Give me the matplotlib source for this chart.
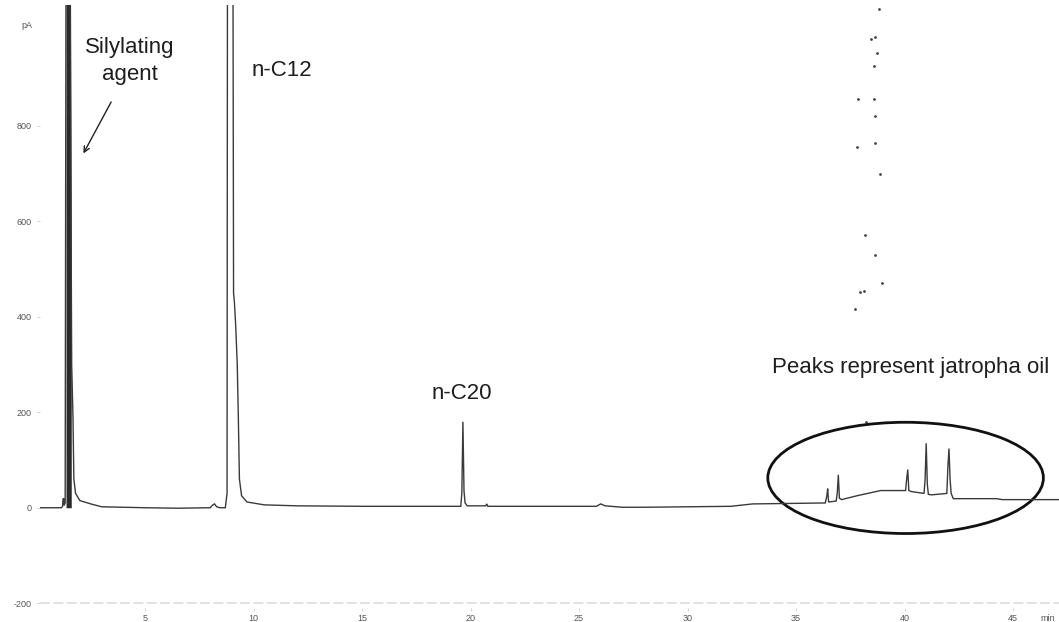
import matplotlib
matplotlib.use("Agg")
import matplotlib.pyplot as plt
from matplotlib.patches import Ellipse

# ---- data (time in min, signal in pA) ----
time_min = [0.16, 1.15, 1.20, 1.22, 1.25, 1.27, 1.32, 1.36, 1.55, 1.60, 1.62, 1.68,
            1.72, 1.80, 2.0, 2.5, 3.0, 5.0, 6.5, 8.0, 8.1, 8.2, 8.3, 8.45,
            8.70, 8.78, 8.80, 9.05, 9.08, 9.12, 9.18, 9.25, 9.30, 9.35, 9.45,
            9.7, 10.5, 12.0, 15.0, 19.55, 19.60, 19.65, 19.70, 19.75, 19.85,
            20.70, 20.75, 20.80, 25.8, 26.0, 26.2, 27.0, 28.0, 30.0, 32.0,
            33.0, 36.35, 36.42, 36.46, 36.50, 36.85, 36.90, 36.95, 37.00, 37.10,
            37.8, 38.9, 40.05, 40.10, 40.15, 40.20, 40.30, 40.90, 40.95, 41.00,
            41.05, 41.10, 41.25, 41.95, 42.00, 42.05, 42.10, 42.15, 42.25, 42.40,
            44.25, 44.5, 47.12]
signal_pA = [0, 0, 3, 18, 20, 5, 10, 1200, 1200, 510, 300, 190,
             60, 30, 15, 8, 2, 0, -1, 0, 5, 8, 2, 0,
             0, 30, 1200, 1200, 450, 430, 380, 300, 190, 60, 25,
             12, 6, 4, 3, 3, 30, 180, 35, 10, 4,
             4, 8, 3, 3, 8, 4, 1, 1, 2, 3,
             8, 10, 25, 40, 12, 14, 30, 69, 20, 17,
             25, 36, 36, 60, 80, 36, 34, 30, 60, 135,
             50, 28, 27, 30, 86, 124, 60, 30, 19, 19,
             19, 17, 17]

# stray scan dots
dot_t = [38.83, 38.46, 38.64, 38.73, 38.59, 37.86, 38.59, 38.64, 37.81, 38.64,
         38.87, 38.18, 38.64, 38.96, 37.95, 38.13, 37.72, 38.22]
dot_pA = [1045, 982, 986, 953, 926, 857, 857, 821, 756, 764,
          699, 572, 530, 471, 452, 454, 417, 180]

x_ticks = [5, 10, 15, 20, 25, 30, 35, 40, 45]
y_ticks = [-200, 0, 200, 400, 600, 800]

plt.rcParams['font.family'] = ['Liberation Sans', 'DejaVu Sans']

fig = plt.figure(figsize=(10.59, 6.22), dpi=100)
ax = fig.add_axes([40 / 1059, 14 / 622, 1 - 40 / 1059, (608 - 5) / 622])
ax.set_xlim(0.16, 47.12)
ax.set_ylim(-210, 1053)

ax.plot(time_min, signal_pA, color='#3a3a3a', lw=1.0, solid_joinstyle='miter')
# dark band of the overloaded solvent/silylating peak
ax.fill_between(time_min, 0, signal_pA,
                where=[1.36 <= t <= 1.60 for t in time_min],
                color='#2a2a2a', lw=0)
ax.scatter(dot_t, dot_pA, s=4, color='#444444', linewidths=0)

# faint -200 line
ax.axhline(-200, color='#dddddd', lw=1.2, ls=(0, (6, 2)), zorder=0)

for s in ax.spines.values():
    s.set_visible(False)
ax.set_xticks(x_ticks)
ax.set_xticklabels([str(v) for v in x_ticks])
ax.set_yticks(y_ticks)
ax.set_yticklabels([str(v) for v in y_ticks])
ax.tick_params(axis='both', labelsize=6.5, labelcolor='#555555', colors='#cccccc',
               length=2, width=0.6)
ax.tick_params(axis='x', pad=2)
ax.tick_params(axis='y', pad=4)
ax.text(-0.2, 1010, 'pA', fontsize=6.5, color='#555555', ha='right', va='center')
ax.text(46.6, -222, 'min', fontsize=6.5, color='#555555', ha='center', va='top')

# annotations
txt = dict(fontsize=16, ha='center', va='center', color='#1e1e1e')
ax.text(4.3, 963, 'Silylating', **txt)
ax.text(4.3, 907, 'agent', **txt)
ax.annotate('', xy=(2.1, 737), xytext=(3.5, 855),
            arrowprops=dict(arrowstyle='->', color='#222222', lw=1.0))
ax.text(11.3, 915, 'n-C12', **txt)
ax.text(19.6, 240, 'n-C20', **txt)
ax.text(40.3, 293, 'Peaks represent jatropha oil', **txt)

ax.add_patch(Ellipse((40.05, 62.5), 12.7, 233, fill=False, edgecolor='#111111', lw=2.0))

fig.savefig('out.png', dpi=100)
